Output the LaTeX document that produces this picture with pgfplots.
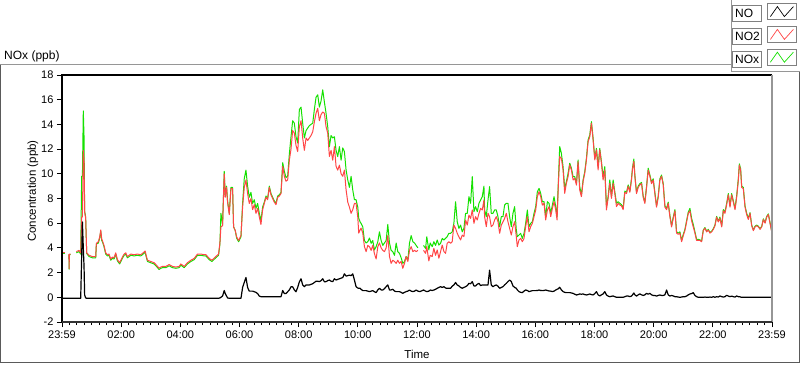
\documentclass[border=0pt]{standalone}
\usepackage{fontspec}
\setmainfont{Liberation Sans}
\usepackage{pgfplots}
\usepackage{pgfplotstable}
\pgfplotsset{compat=1.18}
\definecolor{noxgreen}{RGB}{20,225,0}
\definecolor{notwored}{RGB}{255,70,70}
\definecolor{frgray}{RGB}{150,150,150}
\newcommand{\legtext}[1]{{\setlength{\fboxsep}{0pt}\setlength{\fboxrule}{0.8bp}\fcolorbox{gray}{white}{\parbox[c][15bp][c]{28bp}{\hspace{2bp}#1}}}}

\pgfplotstableread{
h NO NO2 NOx
0.000 -0.08 3.61 3.55
0.100 -0.08 3.61 3.55
0.170 -0.08 nan nan
0.235 -0.08 3.50 3.45
0.240 -0.08 2.32 2.27
0.250 -0.08 3.50 3.45
0.290 -0.08 3.50 3.45
0.330 -0.08 nan nan
0.485 -0.08 3.70 3.60
0.575 -0.08 3.80 3.70
0.632 -0.08 3.60 3.50
0.665 3.30 6.50 9.80
0.690 6.10 6.50 9.80
0.720 4.00 11.90 15.10
0.745 2.50 11.00 13.00
0.765 0.20 6.90 7.00
0.800 -0.05 6.40 6.50
0.835 -0.08 3.60 3.55
0.914 -0.08 3.40 3.30
1.027 -0.08 3.30 3.20
1.140 -0.08 3.30 3.20
1.162 -0.08 4.37 4.30
1.230 -0.08 4.50 4.40
1.275 -0.08 4.90 4.80
1.310 -0.08 5.45 5.35
1.343 -0.08 4.70 4.60
1.365 -0.08 4.60 4.50
1.420 -0.08 4.20 4.10
1.478 -0.08 3.60 3.50
1.534 -0.08 3.45 3.35
1.590 -0.08 3.50 3.40
1.647 -0.08 3.10 3.00
1.700 -0.08 3.25 3.15
1.760 -0.08 3.20 3.10
1.816 -0.08 3.60 3.50
1.873 -0.08 3.05 2.95
1.950 -0.08 2.80 2.70
2.040 -0.08 3.25 3.15
2.100 -0.08 3.50 3.40
2.155 -0.08 3.60 3.50
2.210 -0.08 3.30 3.20
2.270 -0.08 3.40 3.30
2.325 -0.08 3.50 3.40
2.440 -0.08 3.45 3.35
2.550 -0.08 3.50 3.40
2.660 -0.08 3.45 3.35
2.720 -0.08 3.55 3.45
2.810 -0.08 3.75 3.65
2.855 -0.08 3.30 3.20
2.890 -0.08 3.00 2.90
3.000 -0.08 2.90 2.80
3.114 -0.08 2.80 2.70
3.193 -0.08 2.60 2.50
3.283 -0.08 2.35 2.25
3.340 -0.08 2.45 2.35
3.396 -0.08 2.50 2.40
3.510 -0.08 2.50 2.40
3.620 -0.08 2.65 2.55
3.735 -0.08 2.50 2.40
3.850 -0.08 2.45 2.35
3.960 -0.08 2.50 2.40
4.017 -0.08 2.70 2.60
4.130 -0.08 2.50 2.40
4.240 -0.08 2.80 2.70
4.355 -0.08 3.00 2.90
4.470 -0.08 3.15 3.05
4.580 -0.08 3.50 3.40
4.694 -0.08 3.50 3.40
4.810 -0.08 3.45 3.35
4.864 -0.08 3.45 3.35
4.976 -0.08 3.15 3.05
5.067 -0.08 3.00 2.90
5.200 -0.08 3.30 3.20
5.292 -0.08 3.50 3.40
5.338 -0.05 4.40 4.30
5.372 0.00 5.70 6.80
5.428 0.10 5.80 5.90
5.484 0.55 10.00 10.20
5.518 0.30 8.10 8.30
5.563 0.10 8.90 9.00
5.597 -0.05 7.70 7.80
5.654 -0.08 6.70 6.80
5.710 -0.08 8.80 8.90
5.766 -0.08 8.80 8.90
5.800 -0.08 5.70 5.70
5.857 -0.08 5.40 5.40
5.902 -0.08 4.90 4.80
5.970 -0.08 4.60 4.50
6.050 -0.08 5.00 4.90
6.105 0.80 7.30 7.60
6.161 1.20 8.90 9.60
6.218 1.60 9.50 10.30
6.274 0.80 8.40 9.00
6.330 0.50 7.60 8.10
6.387 0.50 8.00 8.50
6.443 0.50 7.10 7.60
6.500 0.45 7.50 7.90
6.556 0.40 6.80 7.20
6.613 0.30 7.20 7.60
6.670 0.10 6.50 6.80
6.725 0.05 5.90 6.20
6.782 0.05 7.10 7.30
6.838 0.05 7.60 7.70
6.895 0.05 8.10 8.20
6.950 0.05 7.90 8.00
7.008 0.05 8.90 9.00
7.064 0.05 8.30 8.40
7.120 0.05 8.00 8.10
7.177 0.05 7.70 7.80
7.233 0.05 7.50 7.60
7.290 0.05 8.10 8.20
7.346 0.05 8.20 8.30
7.403 0.05 8.40 8.50
7.460 0.55 10.60 10.90
7.516 0.30 9.80 10.20
7.572 0.30 9.40 9.70
7.628 0.45 9.50 9.80
7.685 0.60 11.10 11.60
7.741 0.85 12.00 13.00
7.797 0.85 13.50 14.30
7.853 0.60 13.30 14.10
7.910 0.45 12.30 13.00
7.967 0.80 11.80 12.50
8.023 1.25 13.80 15.20
8.080 1.50 14.30 15.40
8.136 1.00 12.90 14.10
8.193 0.86 11.90 12.90
8.250 1.00 12.90 13.50
8.305 1.00 12.70 13.70
8.362 1.00 12.90 13.90
8.418 1.05 13.10 14.00
8.475 1.10 13.40 14.10
8.530 1.20 14.20 15.20
8.587 1.30 14.90 16.20
8.644 1.30 15.30 16.40
8.700 1.27 14.30 15.40
8.757 1.35 14.80 15.90
8.813 1.50 15.00 16.80
8.870 1.25 14.90 15.80
8.926 1.27 13.80 14.90
8.982 1.35 13.30 13.80
9.039 1.40 11.40 12.20
9.095 1.30 11.90 13.10
9.152 1.27 11.10 12.90
9.208 1.50 12.20 13.00
9.264 1.40 10.60 11.90
9.320 1.45 10.30 11.40
9.377 1.50 10.70 12.20
9.434 1.55 10.00 11.10
9.490 1.60 9.80 12.10
9.546 1.90 10.30 11.80
9.603 1.72 8.70 10.30
9.660 1.75 7.70 9.50
9.716 1.80 7.30 8.90
9.772 1.75 6.80 9.80
9.828 1.90 7.10 8.70
9.885 1.40 7.60 7.90
9.940 0.86 7.60 7.90
9.998 0.75 6.50 7.30
10.030 0.73 5.20 6.40
10.077 0.73 5.45 6.10
10.110 0.65 5.60 5.99
10.167 0.54 5.20 5.70
10.223 0.54 4.10 4.60
10.280 0.54 3.70 4.40
10.336 0.50 4.20 4.50
10.393 0.46 4.10 4.80
10.450 0.50 3.80 4.37
10.505 0.54 4.20 4.60
10.560 0.45 3.55 3.83
10.618 0.38 3.10 4.10
10.675 0.60 4.10 4.50
10.730 0.73 4.40 5.30
10.787 0.60 4.00 4.60
10.844 0.59 3.80 4.20
10.900 0.70 3.70 4.40
10.957 0.86 4.00 4.60
11.013 1.00 5.00 5.90
11.070 0.59 3.30 4.40
11.126 0.60 2.75 3.80
11.180 0.65 3.00 3.70
11.240 0.50 2.90 3.40
11.295 0.46 2.75 4.40
11.350 0.46 3.00 3.70
11.408 0.46 2.75 3.56
11.464 0.40 2.90 3.20
11.520 0.32 2.35 2.75
11.577 0.40 2.75 2.90
11.634 0.46 3.30 3.30
11.690 0.50 2.90 3.00
11.747 0.59 3.80 4.40
11.803 0.50 4.10 5.00
11.860 0.46 3.70 4.50
11.916 0.50 3.80 4.40
11.972 0.59 3.70 4.20
12.030 0.50 3.80 4.00
12.100 0.46 nan nan
12.220 0.59 3.80 4.20
12.290 0.50 3.56 3.96
12.330 0.46 4.10 4.90
12.400 0.50 2.95 3.83
12.446 0.59 3.40 4.40
12.514 0.55 3.30 4.10
12.570 0.59 3.96 4.50
12.627 0.65 3.40 4.20
12.683 0.73 3.83 4.64
12.740 0.80 3.16 4.23
12.796 0.86 3.70 4.37
12.853 0.80 4.23 4.77
12.910 0.86 3.70 4.64
12.965 0.75 3.56 4.77
13.020 0.73 4.37 4.91
13.078 0.73 4.50 5.18
13.135 0.73 4.37 5.18
13.190 0.90 4.50 5.30
13.247 1.00 5.85 6.00
13.304 1.20 5.58 7.74
13.360 1.00 5.18 6.12
13.417 0.92 4.90 5.58
13.473 0.80 4.64 5.85
13.530 0.73 5.04 5.30
13.586 0.80 4.91 5.58
13.642 0.86 6.26 6.80
13.700 0.95 5.85 6.80
13.755 1.13 6.66 8.15
13.812 1.10 6.39 7.61
13.868 1.27 7.07 9.77
13.925 0.92 5.99 6.93
13.980 0.92 6.53 7.34
14.037 1.05 6.26 6.93
14.094 1.13 6.80 7.61
14.150 0.95 7.20 7.88
14.206 1.00 7.07 8.15
14.263 1.00 7.88 9.00
14.285 1.00 6.53 7.07
14.342 1.00 5.72 6.53
14.400 1.00 6.80 7.88
14.454 2.20 6.53 8.96
14.510 1.00 5.72 6.80
14.567 0.86 5.85 6.80
14.624 0.95 6.26 7.07
14.680 1.00 6.53 7.07
14.737 0.90 6.12 6.53
14.793 0.73 5.18 5.72
14.850 0.80 5.85 6.53
14.906 0.86 6.12 6.53
14.962 1.00 6.39 7.47
15.019 1.13 6.80 7.61
15.075 1.27 6.12 7.61
15.131 1.40 5.58 6.53
15.188 1.27 5.04 5.72
15.244 0.92 5.72 6.80
15.300 0.80 6.12 7.34
15.357 0.73 4.91 5.45
15.390 0.60 4.10 4.91
15.447 0.46 4.64 5.04
15.504 0.40 4.77 5.18
15.560 0.38 4.50 4.77
15.617 0.50 4.77 5.18
15.673 0.59 5.72 5.99
15.730 0.55 6.53 7.07
15.786 0.46 5.31 5.72
15.842 0.50 5.72 5.99
15.900 0.54 5.99 6.12
15.955 0.54 6.53 6.80
16.012 0.54 7.07 7.34
16.068 0.55 8.15 8.55
16.125 0.59 8.55 8.82
16.181 0.55 8.15 8.42
16.237 0.54 7.47 7.74
16.294 0.55 7.61 7.74
16.350 0.59 6.26 6.53
16.407 0.55 7.07 7.74
16.463 0.51 7.34 7.61
16.520 0.50 6.53 6.80
16.576 0.46 7.20 7.47
16.632 0.50 7.74 8.15
16.689 0.59 7.07 7.34
16.734 0.65 6.26 6.53
16.780 0.70 9.23 9.50
16.824 0.81 11.39 12.20
16.880 0.60 11.25 11.66
16.937 0.46 10.31 10.58
16.993 0.40 8.42 8.82
17.050 0.38 9.23 9.36
17.106 0.38 9.77 10.04
17.163 0.38 10.71 10.85
17.220 0.35 10.31 10.44
17.276 0.32 9.50 9.77
17.332 0.25 9.63 9.77
17.390 0.19 9.09 9.23
17.445 0.22 10.98 11.12
17.500 0.27 8.69 8.96
17.558 0.25 8.15 8.28
17.614 0.27 9.36 9.50
17.670 0.22 10.04 10.17
17.727 0.19 11.12 11.25
17.783 0.22 12.60 12.74
17.840 0.27 13.01 13.14
17.896 0.22 14.09 14.22
17.953 0.19 12.74 12.87
18.010 0.30 11.12 11.25
18.066 0.46 11.93 12.06
18.122 0.20 10.31 10.58
18.178 0.11 11.93 12.06
18.235 0.20 10.85 10.98
18.290 0.27 9.50 9.77
18.348 0.46 10.31 10.58
18.404 0.19 7.07 7.34
18.460 0.10 8.01 8.15
18.517 0.05 9.23 9.50
18.573 0.08 8.01 8.15
18.630 0.11 9.23 9.50
18.686 0.05 8.42 8.55
18.743 0.00 7.34 7.61
18.800 0.00 7.61 7.74
18.855 0.00 7.47 7.61
18.912 0.00 7.40 7.50
18.969 0.00 7.10 7.20
19.025 0.05 8.50 8.60
19.082 0.10 8.40 8.50
19.138 0.10 9.00 9.10
19.195 0.05 8.50 8.60
19.250 0.10 9.50 9.60
19.285 0.20 10.40 10.50
19.330 0.35 11.00 11.20
19.364 0.20 9.80 9.90
19.420 0.10 8.40 8.50
19.477 0.20 8.90 9.00
19.533 0.27 9.10 9.20
19.590 0.20 9.20 9.30
19.646 0.15 8.10 8.20
19.702 0.20 7.60 7.70
19.760 0.32 8.90 9.00
19.815 0.25 10.30 10.45
19.872 0.32 9.80 9.90
19.928 0.20 9.20 9.30
19.984 0.15 9.50 9.60
20.040 0.15 8.40 8.50
20.097 0.10 7.30 7.40
20.154 0.15 8.10 8.20
20.210 0.19 9.50 9.60
20.266 0.15 9.80 9.90
20.323 0.15 9.10 9.20
20.380 0.20 7.30 7.40
20.436 0.59 7.10 7.20
20.492 0.20 7.60 7.70
20.550 0.10 6.50 6.60
20.605 0.15 5.70 5.80
20.662 0.11 6.40 6.50
20.718 0.05 7.00 7.10
20.774 0.05 5.20 5.30
20.830 0.02 5.10 5.20
20.887 0.00 5.20 5.30
20.944 0.02 4.50 4.60
21.000 0.05 5.00 5.10
21.056 0.05 5.40 5.50
21.113 0.10 6.10 6.20
21.170 0.20 6.80 6.90
21.226 0.27 7.00 7.20
21.282 0.30 6.20 6.40
21.338 0.38 5.70 5.90
21.395 0.15 5.20 5.30
21.450 0.05 4.60 4.70
21.508 0.00 4.60 4.70
21.564 0.00 4.60 4.65
21.620 0.00 4.50 4.55
21.677 0.00 5.40 5.45
21.733 0.02 5.60 5.65
21.790 0.00 5.30 5.35
21.846 0.00 5.45 5.50
21.900 0.02 5.20 5.25
21.960 0.00 5.30 5.35
22.016 0.05 5.50 5.55
22.072 0.00 5.80 5.85
22.128 0.05 6.50 6.55
22.185 0.02 6.10 6.15
22.240 0.11 6.40 6.50
22.300 0.05 5.70 5.80
22.354 0.02 7.00 7.10
22.410 0.05 6.80 6.90
22.467 0.16 7.50 7.60
22.523 0.10 8.30 8.40
22.580 0.05 7.30 7.40
22.636 0.10 8.30 8.40
22.693 0.05 7.70 7.80
22.750 0.02 7.10 7.20
22.805 0.11 8.10 8.20
22.862 0.05 9.50 9.60
22.896 0.05 10.70 10.80
22.940 0.02 10.30 10.40
22.975 0.00 8.90 9.00
23.030 0.00 8.80 8.90
23.088 0.00 7.30 7.40
23.144 0.00 6.70 6.80
23.200 0.00 6.30 6.40
23.257 0.00 6.80 6.85
23.313 0.00 5.80 5.85
23.370 0.00 5.40 5.45
23.426 0.00 5.70 5.75
23.482 0.00 5.80 5.85
23.540 0.00 5.70 5.75
23.595 0.00 5.50 5.55
23.652 0.00 5.70 5.75
23.708 0.00 6.30 6.35
23.765 0.00 6.00 6.05
23.820 0.00 6.50 6.55
23.877 0.00 6.70 6.75
23.933 0.00 6.00 6.05
23.990 0.00 5.30 5.35
}\datatable

\begin{document}
\begin{tikzpicture}
\useasboundingbox (0bp,0bp) rectangle (800bp,365bp);
% panel frame
\draw[frgray, line width=1bp] (0.5bp,300bp) -- (731bp,300bp);
\draw[frgray, line width=1bp] (731bp,365bp) -- (731bp,293bp) -- (800bp,293bp);
\draw[frgray!60!black, line width=1bp] (0.5bp,300bp) -- (0.5bp,2bp) -- (799.5bp,2bp) -- (799.5bp,293bp);
\node[anchor=base west, inner sep=0pt, font=\fontsize{12bp}{14bp}\selectfont] at (4bp,305bp) {NOx (ppb)};
\coordinate (A) at (62bp,43bp);
\begin{axis}[
  at={(A)}, anchor=south west,
  scale only axis, width=710bp, height=247bp,
  xmin=0, xmax=24, ymin=-2, ymax=18,
  xtick={0,2,4,6,8,10,12,14,16,18,20,22,24},
  xticklabels={23:59,02:00,04:00,06:00,08:00,10:00,12:00,14:00,16:00,18:00,20:00,22:00,23:59},
  minor x tick num=7,
  ytick={-2,0,2,4,6,8,10,12,14,16,18},
  tick pos=left, tick align=outside,
  major tick length=5bp, minor tick length=3bp,
  tick style={black, line width=0.8bp},
  axis line style={draw=none},
  ticklabel style={font=\fontsize{11bp}{13bp}\selectfont},
  /pgf/number format/assume math mode=true,
  xlabel={Time}, ylabel={Concentration (ppb)},
  label style={font=\fontsize{11.5bp}{13bp}\selectfont},
  xlabel style={at={(axis description cs:0.5,-0.13)}, anchor=center},
  ylabel style={at={(axis description cs:-0.041,0.53)}, anchor=center},
  unbounded coords=jump,
  clip=false,
  legend style={at={(axis description cs:1.0352,1.2915)}, anchor=north east,
    draw=none, fill=none, row sep=6bp, column sep=5bp, inner sep=0pt,
    nodes={inner sep=0pt}, font=\fontsize{12bp}{14bp}\selectfont},
  legend plot pos=right,
  legend image code/.code={
    \draw[draw=gray, fill=white, line width=0.8bp] (0bp,-8bp) rectangle (29bp,8bp);
    \draw[#1, line width=0.7bp] (3bp,-5bp) -- (10bp,5bp) -- (17bp,-5bp) -- (26bp,5bp);
  },
]
\addplot[noxgreen, line width=1bp, line join=round, forget plot] table[x=h, y=NOx] {\datatable};
\addplot[notwored, line width=1bp, line join=round, forget plot] table[x=h, y=NO2] {\datatable};
\addplot[black, line width=1.2bp, line join=round, forget plot] table[x=h, y=NO] {\datatable};
\addlegendimage{black}
\addlegendentry{\legtext{NO}}
\addlegendimage{notwored}
\addlegendentry{\legtext{NO2}}
\addlegendimage{noxgreen}
\addlegendentry{\legtext{NOx}}
\draw[black, line width=1.2bp] (rel axis cs:0,0) -- (rel axis cs:0,1) -- (rel axis cs:1,1);
\draw[frgray, line width=1.2bp] (rel axis cs:1,1) -- (rel axis cs:1,0);
\draw[black!80, line width=1.2bp] (rel axis cs:0,0) -- (rel axis cs:1,0);
\end{axis}
\end{tikzpicture}
\end{document}
